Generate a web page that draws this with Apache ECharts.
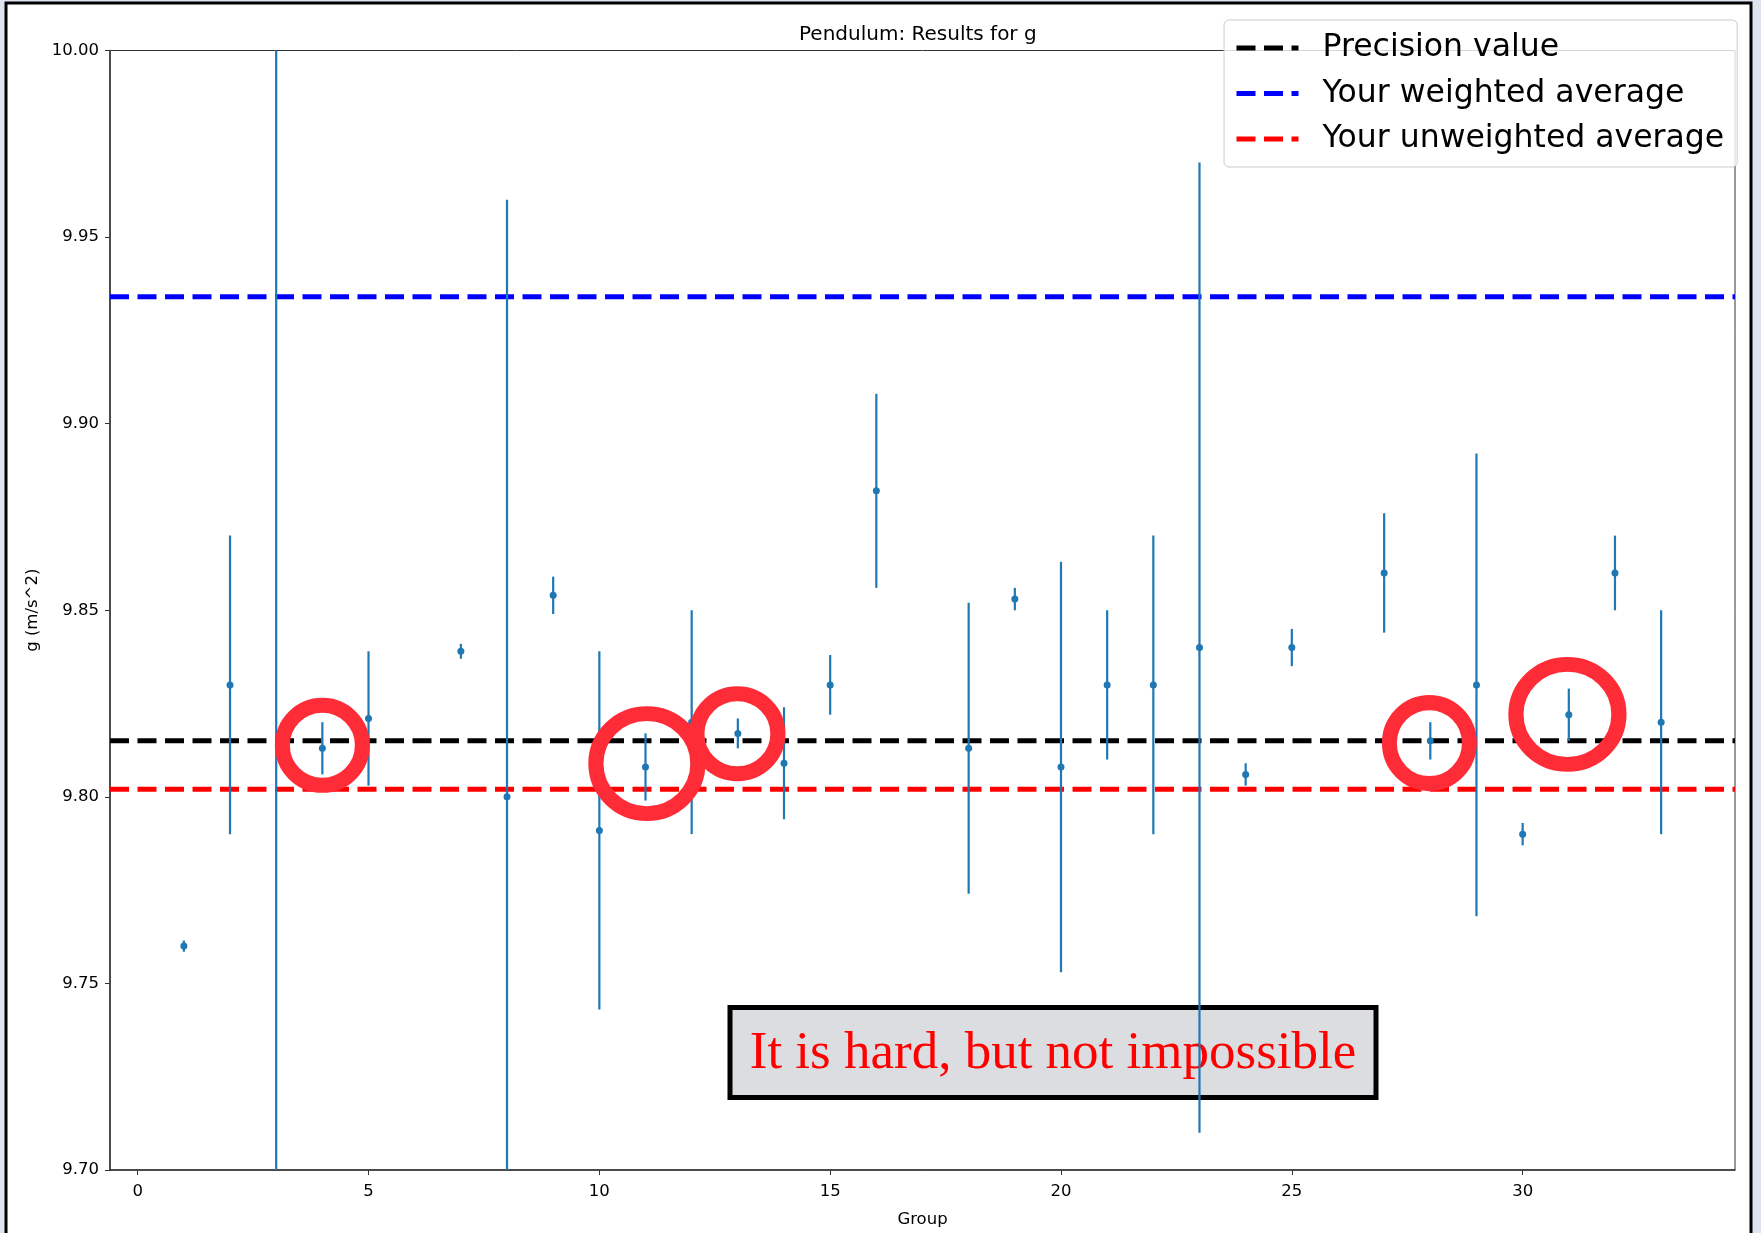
<!DOCTYPE html>
<html lang="en">
<head>
    <meta charset="UTF-8">
    <title>Pendulum: Results for g</title>
    <script type="text/javascript" src="https://cdn.jsdelivr.net/npm/echarts@6/dist/echarts.min.js"></script>
    <style>
        html, body { margin: 0; padding: 0; overflow: hidden; background: #dfe5ef; }
        #chart { width: 1761px; height: 1233px; }
    </style>
</head>
<body>
<div id="chart"></div>

<script>
    // measured g per group (groups 6, 17, 26 have no result)
    var groups  = [1, 2, 3, 4, 5, 7, 8, 9, 10, 11, 12, 13, 14, 15, 16, 18, 19, 20, 21, 22, 23, 24, 25, 27, 28, 29, 30, 31, 32, 33];
    var gValues = [9.760, 9.830, 10.050, 9.813, 9.821, 9.839, 9.800, 9.854, 9.791, 9.808, 9.820, 9.817, 9.809, 9.830, 9.882,
                   9.813, 9.853, 9.808, 9.830, 9.830, 9.840, 9.806, 9.840, 9.860, 9.815, 9.830, 9.790, 9.822, 9.860, 9.820];
    var gErrors = [0.0015, 0.040, 0.400, 0.007, 0.018, 0.002, 0.160, 0.005, 0.048, 0.009, 0.030, 0.004, 0.015, 0.008, 0.026,
                   0.039, 0.003, 0.055, 0.020, 0.040, 0.130, 0.003, 0.005, 0.016, 0.005, 0.062, 0.003, 0.007, 0.010, 0.030];

    // reference lines
    var lineNames  = ['Precision value', 'Your weighted average', 'Your unweighted average'];
    var lineValues = [9.815, 9.934, 9.802];
    var lineColors = ['#000000', '#0000ff', '#ff0000'];

    // highlighted groups (red rings)
    var ringX = [4.00, 11.03, 12.99, 27.98, 30.97];
    var ringY = [9.8138, 9.8089, 9.8169, 9.8144, 9.8221];
    var ringSizes = [[80, 80], [102, 100], [81, 80], [80, 81], [103, 100]];

    var xTicks = [0, 5, 10, 15, 20, 25, 30];
    var yTicks = [9.70, 9.75, 9.80, 9.85, 9.90, 9.95, 10.00];

    var X_MIN = -0.6, X_MAX = 34.6, Y_MIN = 9.70, Y_MAX = 10.00;

    var myChart = echarts.init(document.getElementById('chart'));

    var barData = groups.map(function (g, i) {
        return [g, gValues[i] - gErrors[i], gValues[i] + gErrors[i]];
    });
    var dotData = groups.map(function (g, i) { return [g, gValues[i]]; });

    var lineSeries = lineNames.map(function (name, i) {
        return {
            name: name,
            type: 'line',
            data: [[X_MIN, lineValues[i]], [X_MAX, lineValues[i]]],
            symbol: 'none',
            silent: true,
            z: 2,
            lineStyle: { color: lineColors[i], width: 5, type: [19, 8.5] },
            itemStyle: { color: lineColors[i] }
        };
    });

    var axisFont = { color: '#000', fontSize: 16.5, fontFamily: 'DejaVu Sans' };

    var option = {
        backgroundColor: '#dfe5ef',
        animation: false,
        title: {
            text: 'Pendulum: Results for g',
            left: 799,
            top: 25,
            padding: 0,
            textStyle: { color: '#000', fontSize: 20, fontWeight: 'normal', fontFamily: 'DejaVu Sans' }
        },
        legend: {
            data: lineNames,
            orient: 'vertical',
            left: 1224,
            top: 20,
            padding: [12, 13, 12, 10],
            itemWidth: 62,
            itemHeight: 14,
            itemGap: 13.5,
            backgroundColor: 'rgba(255,255,255,0.8)',
            borderColor: '#cccccc',
            borderWidth: 1,
            borderRadius: 5,
            itemStyle: { color: 'rgba(0,0,0,0)', borderColor: 'rgba(0,0,0,0)', borderWidth: 0 },
            lineStyle: { width: 5 },
            textStyle: { color: '#000', fontSize: 31.5, fontFamily: 'DejaVu Sans', padding: [0, 0, 0, 19] }
        },
        grid: {
            left: 110,
            right: 26,
            top: 50.5,
            bottom: 54,
            show: true,
            borderColor: '#333',
            borderWidth: 1,
            backgroundColor: 'transparent'
        },
        xAxis: {
            type: 'value',
            min: X_MIN,
            max: X_MAX,
            name: 'Group',
            nameLocation: 'middle',
            nameGap: 41,
            nameTextStyle: axisFont,
            splitLine: { show: false },
            axisLine: { onZero: false, lineStyle: { color: '#333', width: 1.5 } },
            axisTick: { customValues: xTicks, length: 5, lineStyle: { color: '#333' } },
            axisLabel: { customValues: xTicks, margin: 13, color: '#000', fontSize: 16.5, fontFamily: 'DejaVu Sans' }
        },
        yAxis: {
            type: 'value',
            min: Y_MIN,
            max: Y_MAX,
            name: 'g (m/s^2)',
            nameLocation: 'middle',
            nameGap: 67,
            nameRotate: 90,
            nameTextStyle: axisFont,
            splitLine: { show: false },
            axisLine: { onZero: false, lineStyle: { color: '#333', width: 1.5 } },
            axisTick: { customValues: yTicks, length: 5, lineStyle: { color: '#333' } },
            axisLabel: {
                customValues: yTicks, margin: 11, color: '#000', fontSize: 16.5, fontFamily: 'DejaVu Sans',
                formatter: function (v) { return v.toFixed(2); }
            }
        },
        graphic: [
            {   // screenshot frame: white sheet with black edge (bottom edge is off-picture)
                type: 'rect',
                z: -100,
                silent: true,
                shape: { x: 6, y: 3, width: 1745, height: 1300 },
                style: { fill: '#fff', stroke: null }
            },
            {
                type: 'polyline',
                z: -99,
                silent: true,
                shape: { points: [[6, 1300], [6, 3], [1751, 3], [1751, 1300]] },
                style: { stroke: '#000', lineWidth: 3, fill: null }
            },
            {
                type: 'group',
                z: 100,
                children: [
                    {
                        type: 'rect',
                        shape: { x: 730, y: 1007.5, width: 646, height: 90 },
                        style: { fill: '#dcdde0', stroke: '#000', lineWidth: 5 }
                    },
                    {
                        type: 'text',
                        x: 1053,
                        y: 1054,
                        style: {
                            text: 'It is hard, but not impossible',
                            fill: '#f00',
                            font: '53px "Liberation Serif", serif',
                            align: 'center',
                            verticalAlign: 'middle'
                        }
                    }
                ]
            }
        ],
        series: lineSeries.concat([
            {
                name: 'error bars',
                type: 'custom',
                z: 3,
                silent: true,
                data: barData,
                encode: { x: 0, y: [1, 2] },
                renderItem: function (params, api) {
                    var x = api.value(0);
                    var lo = Math.max(api.value(1), Y_MIN);
                    var hi = Math.min(api.value(2), Y_MAX);
                    var p1 = api.coord([x, lo]);
                    var p2 = api.coord([x, hi]);
                    return {
                        type: 'line',
                        shape: { x1: p1[0], y1: p1[1], x2: p2[0], y2: p2[1] },
                        style: { stroke: '#1f77b4', lineWidth: 2.2 }
                    };
                }
            },
            {
                name: 'g',
                type: 'scatter',
                z: 4,
                silent: true,
                clip: true,
                symbolSize: 7,
                itemStyle: { color: '#1f77b4', opacity: 1 },
                data: dotData
            },
            {
                name: 'rings',
                type: 'scatter',
                z: 5,
                silent: true,
                symbol: 'circle',
                data: ringX.map(function (x, i) {
                    return { value: [x, ringY[i]], symbolSize: ringSizes[i] };
                }),
                itemStyle: { color: 'rgba(0,0,0,0)', borderColor: '#fe2c36', borderWidth: 15, opacity: 1 }
            }
        ])
    };

    myChart.setOption(option);
</script>
</body>
</html>
